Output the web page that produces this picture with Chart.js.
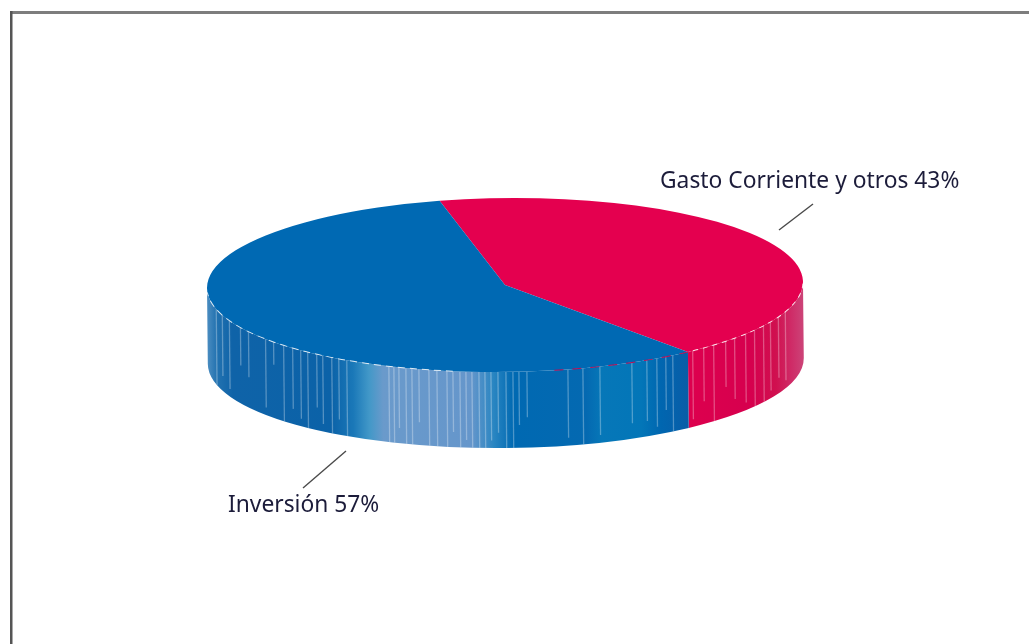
<!DOCTYPE html>
<html>
<head>
<meta charset="utf-8">
<title>Gasto</title>
<script src="https://cdn.jsdelivr.net/npm/chart.js@4/dist/chart.umd.min.js"></script>
<style>
  html, body { margin: 0; padding: 0; background: #fff; overflow: hidden; }
  canvas { display: block; filter: blur(0.6px); }
</style>
</head>
<body>
<canvas id="pie-chart" width="1029" height="644"></canvas>
<script>
// Chart data
const categories = ['Gasto Corriente y otros', 'Inversión'];
const seriesValues = [43, 57];

// Slice colours (top face)
const sliceColors = ['#e4004f', '#0069b3'];

// Wall shading, [x, colour] stops for each slice
const wallStops = [
  [[680, '#de004e'], [750, '#d6004e'], [775, '#d0104f'], [790, '#cf2a66'], [803, '#cc4478']],
  [[207, '#4a8cc0'], [216, '#2272b0'], [232, '#0f63a8'], [330, '#0b62a8'], [352, '#1a78b8'],
   [368, '#4298c8'], [382, '#6a9acb'], [470, '#6596cb'], [492, '#2a86c2'], [512, '#0069b2'],
   [585, '#0469b1'], [600, '#0677b8'], [640, '#0376b8'], [660, '#0066b0'], [690, '#0a5ca6']]
];

// Light vertical streaks on the wall, [x, share of the wall height]
const streaks = [
  [216, 1], [222, 0.8], [229, 0.9], [240, 0.5], [248, 0.6], [265, 0.9], [273, 0.3], [283, 1],
  [292, 0.8], [300, 0.9], [307, 1], [316, 0.7], [322, 0.9], [331, 1], [338, 0.8], [346, 1],
  [388, 1], [393, 1], [398, 0.8], [405, 1], [411, 1], [418, 0.7], [428, 1], [436, 1], [446, 1],
  [452, 0.8], [459, 1], [465, 0.9], [471, 1], [478, 1], [484, 1], [490, 0.9], [497, 0.8],
  [505, 1], [512, 1], [518, 0.7], [526, 0.6], [567, 0.9], [582, 1], [599, 0.9], [631, 0.8],
  [646, 0.8], [656, 0.9], [665, 0.7], [672, 1], [692, 0.9], [703, 0.7], [713, 1], [725, 0.6],
  [734, 0.8], [745, 0.9], [754, 1], [763, 1], [770, 0.9], [778, 0.8], [785, 0.9]
];

// Leader lines and labels
const labelText = categories.map((c, i) => c + ' ' + seriesValues[i] + '%');
const labelLayout = [
  { x: 660, y: 188, line: [813, 204, 779, 230] },
  { x: 228, y: 512, line: [346, 451, 303, 488] }
];

const CX = 505, CY = 285, RX = 298, RY = 87, DEPTH = 76, TILT = -0.6 * Math.PI / 180;

function wallPath(ctx, a0, a1) {
  ctx.beginPath();
  ctx.ellipse(CX, CY, RX, RY, 0, a0, a1);
  ctx.ellipse(CX, CY + DEPTH, RX, RY, 0, a1, a0, true);
  ctx.closePath();
}

// the whole disc leans a little, left side lower
function tilt(ctx) {
  ctx.translate(CX, CY);
  ctx.rotate(TILT);
  ctx.translate(-CX, -CY);
}

const pie3d = {
  id: 'pie3d',
  beforeDraw(chart) {
    // frame of the picture, top and left edges only
    const ctx = chart.ctx;
    ctx.save();
    ctx.fillStyle = '#7d7d7d';
    ctx.fillRect(10, 11, 1019, 3);
    ctx.fillStyle = '#555555';
    ctx.fillRect(10, 11, 2.5, 633);
    ctx.restore();
  },
  beforeDatasetsDraw(chart) {
    const ctx = chart.ctx;
    chart.getDatasetMeta(0).data.forEach((arc, i) => {
      // keep only the front half of the slice
      let a0 = arc.startAngle, a1 = arc.endAngle;
      if (a0 < 0 && a1 > 0) a0 = 0;
      if (a0 < 0) return;
      a1 = Math.min(a1, Math.PI);
      if (a1 <= a0) return;

      const grad = ctx.createLinearGradient(CX - RX, 0, CX + RX, 0);
      wallStops[i].forEach(([x, color]) => grad.addColorStop((x - CX + RX) / (2 * RX), color));

      ctx.save();
      tilt(ctx);
      wallPath(ctx, a0, a1);
      ctx.fillStyle = grad;
      ctx.fill();
      ctx.clip();
      ctx.strokeStyle = 'rgba(255,255,255,0.3)';
      ctx.lineWidth = 1.3;
      streaks.forEach(([x, share]) => {
        const top = CY + RY * Math.sqrt(1 - Math.pow((x - CX) / RX, 2));
        ctx.beginPath();
        ctx.moveTo(x, top);
        ctx.lineTo(x, top + DEPTH * share);
        ctx.stroke();
      });
      ctx.restore();
    });
  },
  beforeDatasetDraw(chart) {
    // squash the round pie into the tilted top face
    const ctx = chart.ctx;
    const arc = chart.getDatasetMeta(0).data[0];
    ctx.save();
    tilt(ctx);
    ctx.translate(CX, CY);
    ctx.scale(1, RY / arc.outerRadius);
    ctx.translate(-arc.x, -arc.y);
  },
  afterDatasetDraw(chart) {
    chart.ctx.restore();
  },
  afterDatasetsDraw(chart) {
    const ctx = chart.ctx;
    const meta = chart.getDatasetMeta(0);
    ctx.save();
    ctx.save();
    tilt(ctx);
    // broken seam where the top face meets the wall
    ctx.lineWidth = 1;
    ctx.setLineDash([5, 5]);
    ctx.strokeStyle = 'rgba(255,255,255,0.85)';
    ctx.beginPath();
    ctx.ellipse(CX, CY, RX, RY, 0, 0.02, meta.data[0].endAngle);
    ctx.stroke();
    ctx.strokeStyle = '#c00a50';
    ctx.setLineDash([9, 9]);
    ctx.beginPath();
    ctx.ellipse(CX, CY, RX, RY, 0, meta.data[0].endAngle, 1.42);
    ctx.stroke();
    ctx.strokeStyle = 'rgba(255,255,255,0.8)';
    ctx.setLineDash([7, 5]);
    ctx.beginPath();
    ctx.ellipse(CX, CY, RX, RY, 0, 1.75, Math.PI - 0.05);
    ctx.stroke();
    ctx.restore();
    ctx.setLineDash([]);

    // leader lines and labels
    ctx.font = '22.8px "Noto Sans"';
    ctx.textBaseline = 'alphabetic';
    labelLayout.forEach((lab, i) => {
      const [x0, y0, x1, y1] = lab.line;
      ctx.strokeStyle = '#4a4a4a';
      ctx.lineWidth = 1.4;
      ctx.beginPath();
      ctx.moveTo(x0, y0);
      ctx.lineTo(x1, y1);
      ctx.stroke();
      ctx.fillStyle = '#1c1c3a';
      ctx.fillText(labelText[i], lab.x, lab.y);
    });
    ctx.restore();
  }
};

function initializeChart() {
  const ctx = document.getElementById('pie-chart').getContext('2d');
  window.pieChart = new Chart(ctx, {
    type: 'pie',
    data: {
      labels: categories,
      datasets: [
        {
          data: seriesValues,
          backgroundColor: sliceColors,
          borderWidth: 0
        }
      ]
    },
    options: {
      responsive: false,
      animation: false,
      rotation: -12.5,
      layout: {
        padding: { left: 207, right: 226, top: 24, bottom: 24 }
      },
      plugins: {
        legend: { display: false },
        tooltip: { enabled: false }
      }
    },
    plugins: [pie3d]
  });
}

initializeChart();
</script>
</body>
</html>
